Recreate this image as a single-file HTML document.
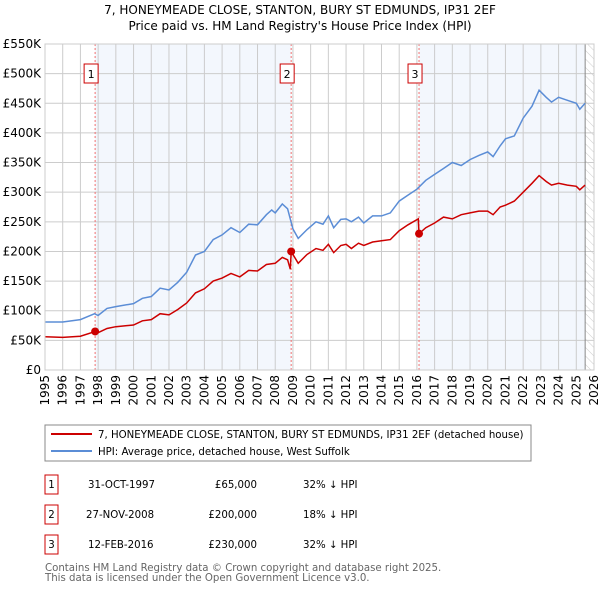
<!DOCTYPE html>
<html><head><meta charset="utf-8"><style>
body{margin:0;background:#fff;font-family:"DejaVu Sans","Liberation Sans",sans-serif}
svg text{font-family:"DejaVu Sans","Liberation Sans",sans-serif}
</style></head><body>
<svg id="c" width="600" height="590" xmlns="http://www.w3.org/2000/svg">
<text x="300" y="14" text-anchor="middle" font-size="12">7, HONEYMEADE CLOSE, STANTON, BURY ST EDMUNDS, IP31 2EF</text>
<text x="300" y="30" text-anchor="middle" font-size="12">Price paid vs. HM Land Registry's House Price Index (HPI)</text>
<defs><pattern id="hatch" width="6" height="6" patternUnits="userSpaceOnUse" patternTransform="rotate(-45)"><line x1="0" y1="0" x2="0" y2="6" stroke="#ccc" stroke-width="1"/></pattern></defs>
<g id="plot"></g>
<rect x="45" y="425" width="486" height="36" fill="#fff" stroke="#888"/>
<line x1="51" y1="434" x2="92" y2="434" stroke="#cc0000" stroke-width="2"/>
<text x="98" y="438" font-size="10.2">7, HONEYMEADE CLOSE, STANTON, BURY ST EDMUNDS, IP31 2EF (detached house)</text>
<line x1="51" y1="451" x2="92" y2="451" stroke="#5b8dd6" stroke-width="2"/>
<text x="98" y="455" font-size="10.2">HPI: Average price, detached house, West Suffolk</text>
<g font-size="10.2">
<rect x="45" y="475" width="13" height="19" fill="#fff" stroke="#cc0000"/><text x="51.5" y="488" text-anchor="middle">1</text>
<text x="88" y="488">31-OCT-1997</text><text x="257" y="488" text-anchor="end">£65,000</text><text x="303" y="488">32% ↓ HPI</text>
<rect x="45" y="505" width="13" height="19" fill="#fff" stroke="#cc0000"/><text x="51.5" y="518" text-anchor="middle">2</text>
<text x="86" y="518">27-NOV-2008</text><text x="257" y="518" text-anchor="end">£200,000</text><text x="303" y="518">18% ↓ HPI</text>
<rect x="45" y="535" width="13" height="19" fill="#fff" stroke="#cc0000"/><text x="51.5" y="548" text-anchor="middle">3</text>
<text x="88" y="548">12-FEB-2016</text><text x="257" y="548" text-anchor="end">£230,000</text><text x="303" y="548">32% ↓ HPI</text>
</g>
<text x="45" y="571" font-size="10.2" fill="#666">Contains HM Land Registry data © Crown copyright and database right 2025.</text>
<text x="45" y="581" font-size="10.2" fill="#666">This data is licensed under the Open Government Licence v3.0.</text>
</svg>
<script>
const hpiT=[1995,1996,1997,1997.8,1998,1998.5,1999,2000,2000.5,2001,2001.5,2002,2002.5,2003,2003.5,2004,2004.5,2005,2005.5,2006,2006.5,2007,2007.5,2007.8,2008,2008.4,2008.7,2009,2009.3,2009.8,2010.3,2010.7,2011,2011.3,2011.7,2012,2012.3,2012.7,2013,2013.5,2014,2014.5,2015,2015.5,2016,2016.5,2017,2017.5,2018,2018.5,2019,2019.5,2020,2020.3,2020.7,2021,2021.5,2022,2022.5,2022.9,2023.3,2023.6,2024,2024.5,2025,2025.2,2025.5];
const hpiV=[81,81,85,95,92,104,107,112,121,124,138,135,148,165,194,200,220,228,240,232,246,245,262,270,265,280,272,238,222,237,250,246,260,240,254,255,250,258,248,260,260,265,285,295,305,320,330,340,350,345,355,362,368,360,378,390,395,425,445,472,460,452,460,455,450,440,450];
const propT=[1995,1996,1997,1997.83,1998,1998.5,1999,2000,2000.5,2001,2001.5,2002,2002.5,2003,2003.5,2004,2004.5,2005,2005.5,2006,2006.5,2007,2007.5,2008,2008.4,2008.7,2008.85,2008.9,2009.3,2009.8,2010.3,2010.7,2011,2011.3,2011.7,2012,2012.3,2012.7,2013,2013.5,2014,2014.5,2015,2015.5,2016.08,2016.12,2016.5,2017,2017.5,2018,2018.5,2019,2019.5,2020,2020.3,2020.7,2021,2021.5,2022,2022.5,2022.9,2023.3,2023.6,2024,2024.5,2025,2025.2,2025.5];
const propV=[56,55,57,65,63,70,73,76,83,85,95,93,102,113,130,137,150,155,163,157,168,167,178,180,190,186,170,200,180,195,205,202,212,198,210,212,205,214,210,216,218,220,235,245,255,230,240,248,258,255,262,265,268,268,262,275,278,285,300,315,328,318,312,315,312,310,304,312];
const saleT=[1997.83,2008.9,2016.12];
const saleV=[65,200,230];
const saleLabels=["1","2","3"];
const yTicks=[0,50,100,150,200,250,300,350,400,450,500,550];
const yLabels=["£0","£50K","£100K","£150K","£200K","£250K","£300K","£350K","£400K","£450K","£500K","£550K"];
const xYears=[];for(let y=1995;y<=2026;y++)xYears.push(y);
const X0=45,X1=594,Y0=370,Y1=44;
const x=t=>X0+(t-1995)/31*(X1-X0);
const y=v=>Y0-v/550*(Y0-Y1);
const NS="http://www.w3.org/2000/svg";
const g=document.getElementById('plot');
function el(tag,a){const e=document.createElementNS(NS,tag);for(const k in a)e.setAttribute(k,a[k]);g.appendChild(e);return e;}
let r;
r=el('rect',{x:x(saleT[0]),y:Y1,width:x(saleT[1])-x(saleT[0]),height:Y0-Y1,fill:'#eef3fc',opacity:0.7});


r=el('rect',{x:x(saleT[2]),y:Y1,width:x(2025.5)-x(saleT[2]),height:Y0-Y1,fill:'#eef3fc',opacity:0.7});


r=el('rect',{x:x(2025.5),y:Y1,width:X1-x(2025.5),height:Y0-Y1,fill:'url(#hatch)'});


yTicks.forEach((v,i)=>{
 const l=el('line',{x1:X0,x2:X1,y1:y(v),y2:y(v),stroke:'#ccc'});
 
 
 const t=el('text',{x:X0-4,y:y(v)+4,'text-anchor':'end','font-size':12});t.textContent=yLabels[i];
 
 
});
xYears.forEach(yr=>{
 const l=el('line',{x1:x(yr),x2:x(yr),y1:Y1,y2:Y0,stroke:'#ccc'});
 
 
 const t=el('text',{x:0,y:0,'text-anchor':'end','font-size':12,transform:`translate(${x(yr)+4},${Y0+5}) rotate(-90)`});t.textContent=yr;
 
 
});
r=el('line',{x1:x(2025.5),x2:x(2025.5),y1:Y1,y2:Y0,stroke:'#888'});


saleT.forEach((t,i)=>{
 const l=el('line',{x1:x(t),x2:x(t),y1:Y1,y2:Y0,stroke:'#f07070','stroke-dasharray':'2,2'});
 
 
});
const path=(T,V)=>T.map((t,i)=>(i?'L':'M')+x(t).toFixed(1)+','+y(V[i]).toFixed(1)).join('');
r=el('path',{d:path(hpiT,hpiV),fill:'none',stroke:'#5b8dd6','stroke-width':1.5});


r=el('path',{d:path(propT,propV),fill:'none',stroke:'#cc0000','stroke-width':1.5});


saleT.forEach((t,i)=>{
 const c=el('circle',{cx:x(t),cy:y(saleV[i]),r:4,fill:'#cc0000'});
 
 
 const b=el('rect',{x:x(t)-11,y:64,width:14,height:19,fill:'#fff',stroke:'#cc0000'});
 
 
 const tx=el('text',{x:x(t)-4,y:78,'text-anchor':'middle','font-size':11});tx.textContent=saleLabels[i];
 
 
});
r=el('rect',{x:X0,y:Y1,width:X1-X0,height:Y0-Y1,fill:'none',stroke:'#ccc'});


</script>
</body></html>
